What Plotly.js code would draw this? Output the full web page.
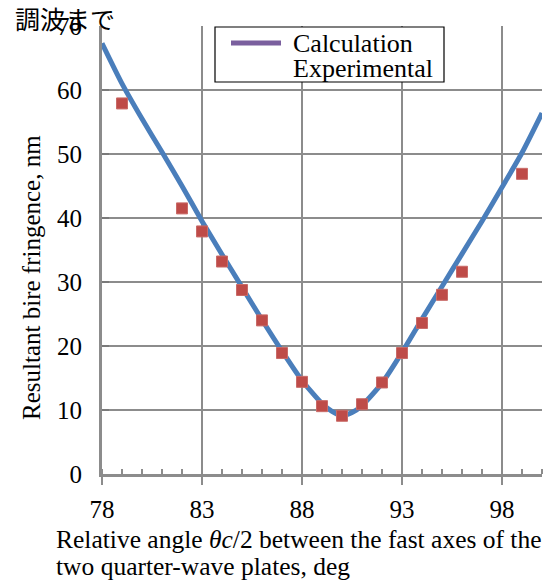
<!DOCTYPE html>
<html>
<head>
<meta charset="utf-8">
<script src="https://cdn.plot.ly/plotly-3.0.1.min.js"></script>
<style>html,body{margin:0;padding:0;background:#fff;}#chart{width:552px;height:581px;}</style>
</head>
<body>
<div id="chart"></div>
<script>
// Calculation curve
const calcX = [78,79,80,81,82,83,84,85,86,87,88,89,89.5,90,90.5,91,92,93,94,95,96,97,98,99,100];
const calcY = [67.3,61.0,55.5,50.3,45.0,39.5,34.3,29.2,24.1,19.2,14.6,11.0,9.8,9.1,9.6,10.7,14.2,19.0,24.2,29.3,34.4,39.5,44.8,50.2,56.4];
// Experimental points
const expX = [79,82,83,84,85,86,87,88,89,90,91,92,93,94,95,96,99];
const expY = [57.9,41.5,37.9,33.2,28.75,24.0,18.9,14.4,10.6,9.1,10.9,14.3,18.9,23.6,28.0,31.6,46.9];
// Axis ticks
const xTicks = [78,83,88,93,98];
const yTicks = [0,10,20,30,40,50,60,70];
const legendNames = ['Calculation','Experimental'];

const serif = "'Liberation Serif', 'Times New Roman', serif";
const W = 552, H = 581, L = 102, R = 10, T = 26, B = 107;
const pw = W - L - R, ph = H - T - B;
const px = X => (X - L) / pw;
const py = Y => (H - B - Y) / ph;

const traces = [
  {x: calcX, y: calcY, mode: 'lines', name: legendNames[0], showlegend: false,
   line: {color: '#4a7ebb', width: 5, shape: 'spline', smoothing: 0.6}},
  {x: expX, y: expY, mode: 'markers', name: legendNames[1], showlegend: false,
   marker: {symbol: 'square', size: 11, color: '#be4b48', line: {color: '#c96a67', width: 1}}}
];

const layout = {
  width: W, height: H,
  margin: {l: L, r: R, t: T, b: B},
  paper_bgcolor: '#fff', plot_bgcolor: '#fff',
  showlegend: false,
  font: {family: serif, color: '#000'},
  xaxis: {
    range: [78, 100], tickvals: xTicks, ticktext: xTicks.map(String),
    showgrid: true, gridcolor: '#8c8c8c', gridwidth: 1.5,
    showline: true, linecolor: '#8c8c8c', linewidth: 2.5,
    ticks: 'outside', ticklen: 8, tickcolor: '#8c8c8c', tickwidth: 1.5,
    minor: {dtick: 1, tick0: 78, ticks: 'inside', ticklen: 5, tickcolor: '#8c8c8c', tickwidth: 1.5, showgrid: false},
    tickfont: {family: serif, size: 25, color: '#000'},
    ticklabelstandoff: 3,
    zeroline: false, fixedrange: true
  },
  yaxis: {
    range: [0, 70], tickvals: yTicks, ticktext: yTicks.map(String),
    showgrid: true, gridcolor: '#8c8c8c', gridwidth: 1.5,
    showline: true, linecolor: '#8c8c8c', linewidth: 3,
    ticks: 'inside', ticklen: 7, tickcolor: '#7a7a7a', tickwidth: 1.5,
    tickfont: {family: serif, size: 25, color: '#000'},
    ticklabelstandoff: 12,
    zeroline: false, fixedrange: true
  },
  shapes: [
    {type: 'rect', xref: 'paper', yref: 'paper', x0: px(215), x1: px(444), y0: py(82), y1: py(27),
     line: {color: '#000', width: 1.2}, fillcolor: '#fff', layer: 'above'},
    {type: 'line', xref: 'paper', yref: 'paper', x0: px(231), x1: px(281), y0: py(43), y1: py(43),
     line: {color: '#7a5f9e', width: 5}, layer: 'above'}
  ],
  annotations: [
    {text: legendNames[0], xref: 'paper', yref: 'paper', x: px(291), y: py(43), xanchor: 'left', yanchor: 'middle',
     showarrow: false, font: {family: serif, size: 26, color: '#000'}},
    {text: legendNames[1], xref: 'paper', yref: 'paper', x: px(291), y: py(68), xanchor: 'left', yanchor: 'middle',
     showarrow: false, font: {family: serif, size: 26, color: '#000'}},
    {text: 'Resultant bire fringence, nm', xref: 'paper', yref: 'paper', x: px(31), y: py(278), xanchor: 'center', yanchor: 'middle',
     textangle: -90, showarrow: false, font: {family: serif, size: 25, color: '#000'}},
    {text: 'Relative angle <i>θc</i>/2 between the fast axes of the', xref: 'paper', yref: 'paper', x: px(54), y: py(539),
     xanchor: 'left', yanchor: 'middle', showarrow: false, font: {family: serif, size: 25.5, color: '#000'}},
    {text: 'two quarter-wave plates, deg', xref: 'paper', yref: 'paper', x: px(54), y: py(566),
     xanchor: 'left', yanchor: 'middle', showarrow: false, font: {family: serif, size: 25.5, color: '#000'}},
    {text: '調波まで', xref: 'paper', yref: 'paper', x: px(13), y: py(18), xanchor: 'left', yanchor: 'middle',
     showarrow: false, font: {family: 'Noto Sans CJK JP, sans-serif', size: 25, color: '#000'}}
  ]
};

Plotly.newPlot('chart', traces, layout, {displayModeBar: false, staticPlot: true});
</script>
</body>
</html>
